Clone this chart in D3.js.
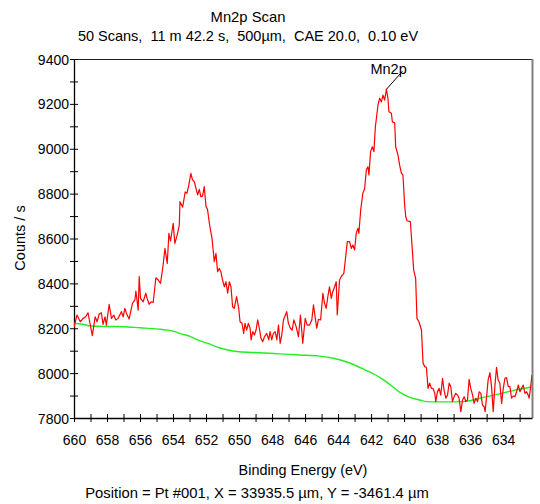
<!DOCTYPE html>
<html><head><meta charset="utf-8">
<script src="https://cdn.jsdelivr.net/npm/d3@7/dist/d3.min.js"></script>
<style>
html,body{margin:0;padding:0;background:#fff;}
svg text{font-family:"Liberation Sans",Arial,sans-serif;fill:#000;}
</style>
</head><body>
<svg id="chart" width="540" height="504"></svg>
<script>
const title = "Mn2p Scan";
const subtitle = "50 Scans,  11 m 42.2 s,  500\u00b5m,  CAE 20.0,  0.10 eV";
const xLabel = "Binding Energy (eV)";
const yLabel = "Counts / s";
const footer = "Position = Pt #001, X = 33935.5 \u00b5m, Y = -3461.4 \u00b5m";
const peakLabel = "Mn2p";

const xTickLabels = [660,658,656,654,652,650,648,646,644,642,640,638,636,634];
const yTickLabels = [7800,8000,8200,8400,8600,8800,9000,9200,9400];

const spectrumEnergy = [660.00,659.82,659.62,659.45,659.29,659.15,659.05,658.89,658.72,658.60,658.48,658.34,658.24,658.12,658.04,657.87,657.73,657.59,657.47,657.33,657.13,657.02,656.92,656.82,656.66,656.46,656.31,656.25,656.11,656.05,655.97,655.81,655.65,655.57,655.45,655.31,655.20,655.04,654.90,654.76,654.60,654.49,654.35,654.25,654.15,653.99,653.89,653.75,653.62,653.58,653.42,653.26,653.16,653.06,652.92,652.82,652.71,652.61,652.51,652.41,652.31,652.21,652.11,652.00,651.91,651.80,651.64,651.50,651.40,651.30,651.20,651.10,651.00,650.89,650.79,650.69,650.59,650.49,650.39,650.29,650.15,650.02,649.94,649.82,649.72,649.64,649.54,649.44,649.33,649.27,649.17,649.07,648.97,648.87,648.77,648.67,648.57,648.46,648.32,648.20,648.12,648.02,647.92,647.81,647.71,647.61,647.51,647.41,647.31,647.19,647.11,647.01,646.89,646.78,646.68,646.54,646.40,646.28,646.14,645.99,645.87,645.73,645.59,645.49,645.39,645.29,645.19,645.06,644.92,644.82,644.72,644.62,644.52,644.41,644.32,644.21,644.11,644.05,643.91,643.81,643.65,643.56,643.44,643.30,643.20,643.10,643.00,642.90,642.80,642.74,642.63,642.50,642.39,642.29,642.19,642.13,642.03,641.92,641.83,641.74,641.58,641.48,641.38,641.28,641.18,641.07,640.98,640.92,640.77,640.71,640.57,640.51,640.37,640.27,640.16,640.07,639.96,639.90,639.82,639.62,639.50,639.42,639.30,639.22,639.10,638.95,638.85,638.75,638.65,638.55,638.45,638.34,638.25,638.14,638.08,637.98,637.88,637.78,637.67,637.58,637.47,637.37,637.27,637.17,637.07,636.97,636.87,636.76,636.67,636.56,636.46,636.36,636.26,636.16,636.06,635.96,635.85,635.76,635.65,635.55,635.45,635.35,635.25,635.15,635.09,635.00,634.91,634.80,634.70,634.60,634.50,634.40,634.30,634.20,634.09,633.99,633.89,633.79,633.69,633.59,633.49,633.39,633.28,633.18,633.08,632.98,632.88,632.78,632.68,632.58,632.48,632.42,632.33,632.25];
const spectrumCounts = [8204,8259,8229,8244,8251,8269,8229,8167,8251,8229,8262,8269,8217,8251,8214,8307,8244,8259,8237,8244,8274,8251,8289,8266,8241,8311,8326,8366,8281,8430,8333,8318,8356,8333,8307,8318,8315,8425,8415,8400,8482,8556,8489,8623,8589,8668,8578,8615,8660,8764,8740,8808,8801,8831,8890,8861,8853,8823,8794,8819,8786,8789,8831,8742,8730,8668,8601,8497,8534,8452,8467,8452,8415,8385,8407,8356,8407,8385,8296,8289,8341,8289,8229,8222,8177,8222,8192,8222,8200,8148,8185,8170,8192,8237,8200,8155,8140,8162,8177,8148,8185,8148,8177,8185,8148,8214,8133,8170,8237,8259,8274,8222,8200,8192,8237,8207,8162,8259,8133,8244,8214,8214,8237,8304,8251,8200,8240,8237,8356,8311,8289,8341,8385,8333,8363,8385,8407,8259,8415,8430,8445,8504,8586,8586,8556,8571,8549,8623,8645,8623,8727,8801,8823,8905,8920,8883,8987,9009,8987,9098,9195,9225,9209,9239,9217,9265,9225,9165,9158,9120,9116,9009,8972,8927,8890,8883,8742,8697,8679,8675,8549,8460,8422,8244,8229,8192,8044,8029,8026,7932,7955,7932,7932,7910,7873,7917,7932,7902,7977,7925,7888,7902,7955,7940,7873,7895,7910,7902,7888,7828,7880,7895,7873,7880,7972,7932,7902,7865,7888,7873,7917,7910,7858,7850,7828,7895,7969,8002,7940,7828,7940,8026,7969,7955,7865,7932,7977,7980,7940,7940,7888,7898,7895,7917,7947,7917,7932,7947,7910,7917,7902,7888,7940,7992];

const backgroundEnergy = [660.00,659.50,659.00,658.00,657.00,656.00,655.00,654.00,653.50,653.00,652.40,651.80,651.20,650.60,649.98,648.77,647.55,646.34,645.12,644.21,643.30,642.39,641.48,640.87,640.27,639.66,639.05,638.63,637.84,636.44,635.41,634.38,633.41,632.25];
const backgroundCounts = [8222,8218,8210,8208,8207,8202,8197,8187,8175,8165,8145,8130,8113,8102,8095,8091,8086,8081,8076,8065,8045,8015,7981,7950,7915,7892,7880,7873,7872,7873,7888,7905,7922,7938];

const xDomain = [660, 632.25];
const yDomain = [7800, 9400];

const svg = d3.select("#chart");
const m = {left:74, right:532, top:59, bottom:418};
const x = d3.scaleLinear().domain(xDomain).range([m.left, m.right]);
const y = d3.scaleLinear().domain(yDomain).range([m.bottom, m.top]);

svg.append("defs").append("clipPath").attr("id","clip")
  .append("rect").attr("x",m.left).attr("y",m.top).attr("width",m.right-m.left).attr("height",m.bottom-m.top);

// frame top & right
svg.append("line").attr("x1",m.left).attr("x2",m.right).attr("y1",m.top+0.5).attr("y2",m.top+0.5)
  .attr("stroke","#222").attr("stroke-width",1);
svg.append("line").attr("x1",m.right+0.5).attr("x2",m.right+0.5).attr("y1",m.top).attr("y2",m.bottom)
  .attr("stroke","#808080").attr("stroke-width",2);

// axes
const xAxis = d3.axisBottom(x).tickValues(d3.range(660, 632.5, -1)).tickSize(0)
  .tickFormat(d => xTickLabels.includes(d) ? d : "");
const gx = svg.append("g").attr("transform",`translate(0,${m.bottom})`).call(xAxis);
gx.select(".domain").attr("stroke","#000").attr("stroke-width",1.3);
gx.selectAll(".tick line").attr("y1",-4).attr("y2",4).attr("stroke","#000");
gx.selectAll(".tick text").attr("dy",0).attr("y",27).style("font-size","14px");

const yAxis = d3.axisLeft(y).tickValues(d3.range(7800, 9401, 100)).tickSize(0)
  .tickFormat(d => yTickLabels.includes(d) ? d : "");
const gy = svg.append("g").attr("transform",`translate(${m.left},0)`).call(yAxis);
gy.select(".domain").attr("stroke","#000").attr("stroke-width",1.3);
gy.selectAll(".tick line").attr("x1",-4).attr("x2",4).attr("stroke","#000");
gy.selectAll(".tick text").attr("x",-5).attr("dy","0.36em").style("font-size","14px");
svg.selectAll(".tick text").style("font-family","'Liberation Sans',Arial,sans-serif").attr("fill","#000");

// lines
const bg = backgroundEnergy.map((e,i)=>({e, c:backgroundCounts[i]}));
const sp = spectrumEnergy.map((e,i)=>({e, c:spectrumCounts[i]}));
const line = d3.line().x(d=>x(d.e)).y(d=>y(d.c)).curve(d3.curveLinear);
const bgLine = d3.line().x(d=>x(d.e)).y(d=>y(d.c)).curve(d3.curveMonotoneX);

const plot = svg.append("g").attr("clip-path","url(#clip)");
plot.append("path").datum(bg).attr("d",bgLine).attr("fill","none")
  .attr("stroke","#22ee22").attr("stroke-width",1.4);
plot.append("path").datum(sp).attr("d",line).attr("fill","none")
  .attr("stroke","#ff0000").attr("stroke-width",1.2).attr("stroke-linejoin","round");

// peak annotation
const peakIdx = d3.maxIndex(spectrumCounts);
const px = x(spectrumEnergy[peakIdx]), py = y(spectrumCounts[peakIdx]);
svg.append("text").attr("x",px-16).attr("y",py-15).style("font-size","14.5px").text(peakLabel);
svg.append("line").attr("x1",px).attr("y1",py).attr("x2",px+16).attr("y2",py-18)
  .attr("stroke","#000").attr("stroke-width",1);

// titles
svg.append("text").attr("x",248).attr("y",22).attr("text-anchor","middle").style("font-size","14.8px").text(title);
svg.append("text").attr("x",248).attr("y",41).attr("text-anchor","middle").style("font-size","14.5px")
  .style("white-space","pre").attr("xml:space","preserve").text(subtitle);
svg.append("text").attr("x",303).attr("y",475).attr("text-anchor","middle").style("font-size","14.4px").text(xLabel);
svg.append("text").attr("x",257).attr("y",498).attr("text-anchor","middle").style("font-size","14.8px").text(footer);
svg.append("text").attr("transform","translate(25,238) rotate(-90)").attr("text-anchor","middle")
  .style("font-size","14.5px").text(yLabel);
</script>
</body></html>
